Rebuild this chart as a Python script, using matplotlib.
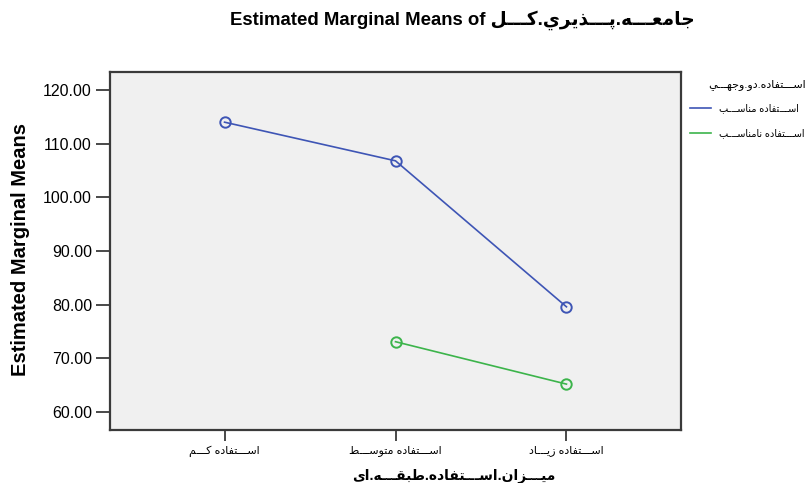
import numpy as np
import matplotlib
matplotlib.use("Agg")
import matplotlib.pyplot as plt
from matplotlib.lines import Line2D

# ---------------- data ----------------
title_en = "Estimated Marginal Means of "
title_ar = "جامعـــه.پـــذيري.كـــل"
ylabel_text = "Estimated Marginal Means"
xlabel_ar = "ميـــزان.اســـتفاده.طبقـــه.اي"
categories = ["اســـتفاده كـــم", "اســـتفاده متوســـط", "اســـتفاده زيـــاد"]
legend_title = "اســـتفاده.دو.وجهـــي"
series_names = ["اســـتفاده مناســـب", "اســـتفاده نامناســـب"]
series_suitable = [114.0, 106.8, 79.6]
series_unsuitable = [np.nan, 73.1, 65.2]
yticks = [60, 70, 80, 90, 100, 110, 120]

# ------------- minimal Arabic shaping (visual order) -------------
FORMS = {
    'ا': (0xFE8D, 0xFE8E), 'د': (0xFEA9, 0xFEAA), 'ذ': (0xFEAB, 0xFEAC),
    'ر': (0xFEAD, 0xFEAE), 'ز': (0xFEAF, 0xFEB0), 'و': (0xFEED, 0xFEEE),
    'ب': (0xFE8F, 0xFE90, 0xFE91, 0xFE92), 'پ': (0xFB56, 0xFB57, 0xFB58, 0xFB59),
    'ت': (0xFE95, 0xFE96, 0xFE97, 0xFE98), 'ج': (0xFE9D, 0xFE9E, 0xFE9F, 0xFEA0),
    'س': (0xFEB1, 0xFEB2, 0xFEB3, 0xFEB4), 'ط': (0xFEC1, 0xFEC2, 0xFEC3, 0xFEC4),
    'ع': (0xFEC9, 0xFECA, 0xFECB, 0xFECC), 'ف': (0xFED1, 0xFED2, 0xFED3, 0xFED4),
    'ق': (0xFED5, 0xFED6, 0xFED7, 0xFED8), 'ك': (0xFED9, 0xFEDA, 0xFEDB, 0xFEDC),
    'ل': (0xFEDD, 0xFEDE, 0xFEDF, 0xFEE0), 'م': (0xFEE1, 0xFEE2, 0xFEE3, 0xFEE4),
    'ن': (0xFEE5, 0xFEE6, 0xFEE7, 0xFEE8), 'ه': (0xFEE9, 0xFEEA, 0xFEEB, 0xFEEC),
    'ي': (0xFEF1, 0xFEF2, 0xFEF3, 0xFEF4),
}
TATWEEL = 'ـ'


def shape(s):
    def dual(c):
        return c == TATWEEL or (c in FORMS and len(FORMS[c]) == 4)

    def letter(c):
        return c == TATWEEL or c in FORMS

    out = []
    for i, c in enumerate(s):
        if c not in FORMS:
            out.append(c)
            continue
        pj = i > 0 and dual(s[i - 1])
        nj = i + 1 < len(s) and letter(s[i + 1])
        f = FORMS[c]
        if len(f) == 2:
            out.append(chr(f[1] if pj else f[0]))
        else:
            if pj and nj:
                out.append(chr(f[3]))
            elif pj:
                out.append(chr(f[1]))
            elif nj:
                out.append(chr(f[2]))
            else:
                out.append(chr(f[0]))
    return ''.join(out)[::-1]


FAM = ['Liberation Sans', 'DejaVu Sans']
plt.rcParams['font.family'] = FAM

W, H = 811, 483
fig = plt.figure(figsize=(W / 100, H / 100), dpi=100)
fig.patch.set_facecolor('white')

L, R, T, B = 110, 681, 72, 430
ax = fig.add_axes([L / W, (H - B) / H, (R - L) / W, (B - T) / H])
ax.set_facecolor('#F0F0F0')

x = np.arange(len(categories))
blue = '#3E55B5'
green = '#3CB44B'
ax.plot(x, series_suitable, color=blue, lw=1.2, marker='o', ms=7.5,
        mfc='none', mec=blue, mew=1.4)
ax.plot(x, series_unsuitable, color=green, lw=1.2, marker='o', ms=7.5,
        mfc='none', mec=green, mew=1.4)

ax.set_xlim(-0.67, 2.67)
ax.set_ylim(56.65, 123.35)
ax.set_yticks(yticks)
ax.set_yticklabels([f"{v:.2f}" for v in yticks], fontsize=11.5)
ax.set_xticks(x)
ax.set_xticklabels([shape(c) for c in categories], fontsize=8)

for sp in ax.spines.values():
    sp.set_color('#3A3A3A')
    sp.set_linewidth(1.6)
ax.tick_params(axis='y', length=10, width=1.3, color='#3A3A3A', pad=3)
ax.tick_params(axis='x', length=8, width=1.3, color='#3A3A3A', pad=3)

# title, axis labels
fig.text(462 / W, 1 - 20 / H, title_en + shape(title_ar), ha='center', va='center',
         fontsize=13.4, fontweight='bold', family=FAM)
fig.text(21 / W, 1 - 249 / H, ylabel_text, rotation=90, ha='center', va='center',
         fontsize=14.5, fontweight='bold', family=FAM)
fig.text(454 / W, 1 - 476 / H, shape(xlabel_ar), ha='center', va='center',
         fontsize=10, fontweight='bold', family=FAM)

# legend (outside the plot, at the right edge)
fig.text(708 / W, 1 - 85 / H, shape(legend_title), ha='left', va='center',
         fontsize=8, family=FAM)
handles = [Line2D([], [], color=blue, lw=1.2), Line2D([], [], color=green, lw=1.2)]
leg = ax.legend(handles, [shape(n) for n in series_names], loc='upper left',
                bbox_to_anchor=(690 / W, 1 - 103 / H), bbox_transform=fig.transFigure,
                frameon=False, fontsize=7, handlelength=2.2, handletextpad=0.8,
                labelspacing=1.55, borderaxespad=0, borderpad=0)

fig.savefig('out.png', dpi=100, facecolor='white')
